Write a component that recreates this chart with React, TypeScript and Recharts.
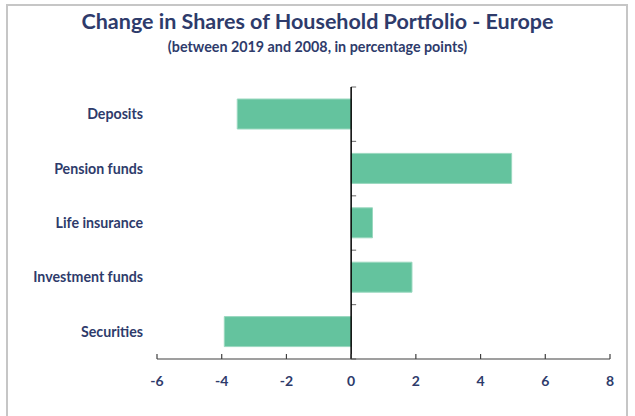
import React from "react";
import { BarChart, Bar, XAxis, YAxis, ReferenceLine } from "recharts";

const categories = ["Deposits", "Pension funds", "Life insurance", "Investment funds", "Securities"];
const changes = [-3.52, 4.96, 0.66, 1.88, -3.92];
const xTicks = [-6, -4, -2, 0, 2, 4, 6, 8];

const data = categories.map((name, i) => ({ name, value: changes[i] }));

const NAVY = "#2E3B6B";
const FONT = "Lato, 'Open Sans', sans-serif";

// vertical zero line with small ticks at the category boundaries
const ZeroLine = (props: any) => {
  const { x1, y1, y2 } = props;
  const n = categories.length;
  const step = (y2 - y1) / n;
  return (
    <g>
      {Array.from({ length: n + 1 }, (_, i) => (
        <line key={i} x1={x1} x2={x1 + 5} y1={y1 + i * step} y2={y1 + i * step} stroke="#7f7f7f" strokeWidth={1.2} />
      ))}
      <line x1={x1} x2={x1} y1={y1} y2={y2} stroke="#000" strokeWidth={1.5} />
    </g>
  );
};

const App = () => {
  return (
    <div style={{ position: "absolute", left: 0, top: 0, width: 635, height: 416, background: "#fff", fontFamily: FONT }}>
      <div
        style={{
          position: "absolute",
          left: 6,
          top: 4,
          width: 622,
          height: 430,
          border: "2px solid #c6c6c6",
          boxSizing: "border-box",
        }}
      />
      <div style={{ position: "absolute", top: 8, width: 635, textAlign: "center", color: NAVY, fontWeight: 700, fontSize: 21.5 }}>
        Change in Shares of Household Portfolio - Europe
      </div>
      <div style={{ position: "absolute", top: 38, width: 635, textAlign: "center", color: NAVY, fontWeight: 700, fontSize: 14.3 }}>
        (between 2019 and 2008, in percentage points)
      </div>
      <div style={{ position: "absolute", left: 0, top: 0 }}>
        <BarChart width={635} height={416} data={data} layout="vertical" margin={{ top: 87, right: 25, bottom: 27, left: 0 }}>
          <XAxis
            type="number"
            domain={[-6, 8]}
            ticks={xTicks}
            interval={0}
            height={30}
            axisLine={{ stroke: "#404040", strokeWidth: 1.2 }}
            tickLine={{ stroke: "#404040", strokeWidth: 1.2 }}
            tickSize={-5}
            tickMargin={22}
            tick={{ fill: NAVY, fontSize: 14, fontWeight: 700, fontFamily: FONT }}
          />
          <YAxis
            type="category"
            dataKey="name"
            width={157}
            axisLine={false}
            tickLine={false}
            tickSize={0}
            tickMargin={14}
            tick={{ fill: NAVY, fontSize: 14.2, fontWeight: 700, fontFamily: FONT }}
          />
          <Bar dataKey="value" barSize={30} fill="#64C39E" stroke="#9ad8bf" strokeWidth={1} isAnimationActive={false} />
          <ReferenceLine x={0} shape={ZeroLine} />
        </BarChart>
      </div>
    </div>
  );
};

export default App;
